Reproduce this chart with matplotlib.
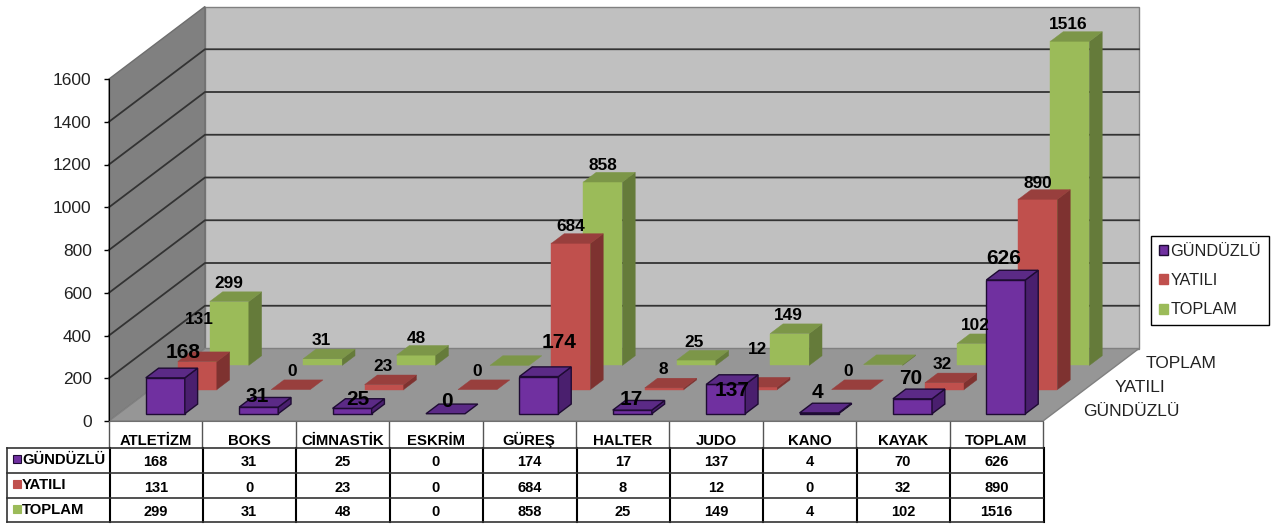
import matplotlib
matplotlib.use('Agg')
import matplotlib.pyplot as plt
from matplotlib.patches import Patch, Polygon, Rectangle

plt.rcParams['font.family'] = ['Liberation Sans', 'DejaVu Sans']

categories = ['ATLETİZM', 'BOKS', 'CİMNASTİK', 'ESKRİM', 'GÜREŞ', 'HALTER', 'JUDO', 'KANO', 'KAYAK', 'TOPLAM']
series_names = ['GÜNDÜZLÜ', 'YATILI', 'TOPLAM']
gunduzlu = [168, 31, 25, 0, 174, 17, 137, 4, 70, 626]
yatili = [131, 0, 23, 0, 684, 8, 12, 0, 32, 890]
toplam = [299, 31, 48, 0, 858, 25, 149, 4, 102, 1516]
y_ticks = [0, 200, 400, 600, 800, 1000, 1200, 1400, 1600]

W, H = 1279, 524
# plot box in pixels
LEFT, RIGHT, BASE, TOP = 109, 1043, 421, 79
DEPTH_X_PX, DEPTH_Y_PX = 96, 72.5

# colours: front, top, side
colors = [('#7030A0', '#5B2A86', '#4A1F6E'),
          ('#C0504D', '#983F3D', '#7E3230'),
          ('#9BBB59', '#7C9648', '#657B3A')]
label_sizes = [15, 12.4, 12.4]

# label nudges in pixels from the bar's top front centre
nudge_purple = [(18, -25), (-2, -11), (6, -9), (1, -12), (20, -34), (-1, -11), (6, 6), (-2, -20), (-2, -20), (-2, -21)]
nudge_red = [(2, -42), (1, -18), (-1, -18), (0, -18), (0, -17), (-1, -18), (0, -38), (-3, -18), (-2, -18), (0, -16)]
nudge_green = [(0, -18), (-1, -18), (0, -17), None, (0, -17), (-2, -18), (-1, -18), None, (-1, -18), (-2, -17)]

fig = plt.figure(figsize=(W / 100, H / 100), dpi=100)
ax = fig.add_axes([LEFT / W, 1 - BASE / H, (RIGHT - LEFT) / W, (BASE - TOP) / H])
ax.set_xlim(0, 10)
ax.set_ylim(0, 1600)
ax.patch.set_visible(False)

dx = DEPTH_X_PX * 10 / (RIGHT - LEFT)
dy = DEPTH_Y_PX * 1600 / (BASE - TOP)


def pt(x, v, d):
    return (x + d * dx, v + d * dy)


def face(points, color, edge=None, z=1, lw=1.0):
    ax.add_patch(Polygon(points, closed=True, facecolor=color, edgecolor=edge if edge else color,
                         linewidth=lw if edge else 0.3, zorder=z, clip_on=False))


# walls and floor
face([pt(0, 0, 1), pt(10, 0, 1), pt(10, 1600, 1), pt(0, 1600, 1)], '#C0C0C0', '#808080', 1)
face([pt(0, 0, 0), pt(0, 0, 1), pt(0, 1600, 1), pt(0, 1600, 0)], '#808080', '#6E6E6E', 1)
face([pt(0, 0, 0), pt(10, 0, 0), pt(10, 0, 1), pt(0, 0, 1)], '#969696', '#808080', 2)

for v in y_ticks[1:-1]:
    xs, ys = zip(pt(0, v, 0), pt(0, v, 1), pt(10, v, 1))
    ax.plot(xs, ys, color='#333333', lw=1.3, zorder=2, clip_on=False)

# bars, back series first
values = [gunduzlu, yatili, toplam]
nudges = [nudge_purple, nudge_red, nudge_green]
z = 3
for s in [2, 1, 0]:
    d0, d1 = (s + 0.3) / 3, (s + 0.7) / 3
    front, top, side = colors[s]
    edge = '#1E0B33' if s == 0 else None
    for i, v in enumerate(values[s]):
        x0, x1 = i + 0.5 - 0.209, i + 0.5 + 0.209
        if v > 0:
            face([pt(x0, 0, d0), pt(x1, 0, d0), pt(x1, v, d0), pt(x0, v, d0)], front, edge, z)
            face([pt(x1, 0, d0), pt(x1, 0, d1), pt(x1, v, d1), pt(x1, v, d0)], side, edge, z)
        face([pt(x0, v, d0), pt(x1, v, d0), pt(x1, v, d1), pt(x0, v, d1)], top, edge, z)
        z += 1
        n = nudges[s][i]
        if n is not None:
            ax.annotate(str(v), xy=pt(i + 0.5, v, d0), xytext=(n[0] * 0.72, -n[1] * 0.72),
                        textcoords='offset points', ha='center', va='center', annotation_clip=False,
                        fontsize=label_sizes[s], fontweight='bold', color='black', zorder=100)

# axis
ax.set_yticks(y_ticks)
ax.set_xticks([])
ax.tick_params(axis='y', length=3.5, width=1, labelsize=12.5, pad=9, colors='black', labelcolor='#222222')
for name in ['top', 'right']:
    ax.spines[name].set_visible(False)
ax.spines['left'].set_zorder(50)
ax.spines['bottom'].set_color('#707070')
ax.spines['bottom'].set_zorder(50)

ax.legend(handles=[Patch(facecolor=colors[k][0], edgecolor='#1E0B33' if k == 0 else colors[k][0], label=series_names[k])
                   for k in range(3)],
          loc='upper left', bbox_to_anchor=(1151 / W, 1 - 236 / H), bbox_transform=fig.transFigure,
          borderaxespad=0, fancybox=False, framealpha=1, edgecolor='black', fontsize=11.7,
          handlelength=0.55, handleheight=0.55, handletextpad=0.15, labelspacing=0.88, borderpad=0.48,
          labelcolor='#222222')

# overlay in pixels for depth labels and data table
px = fig.add_axes([0, 0, 1, 1])
px.set_xlim(0, W)
px.set_ylim(H, 0)
px.axis('off')
px.patch.set_visible(False)

depth_label_pos = [(1083, 416), (1115, 392), (1146, 368)]
for name, (lx, ly) in zip(series_names, depth_label_pos):
    px.text(lx, ly, name, fontsize=12.5, color='#222222', ha='left', va='baseline')

col_w = (RIGHT - LEFT) / len(categories)
header_top, header_bottom = 422, 448
row_lines = [448, 473, 498, 522]
row_text_y = [466.5, 491.5, 516]
row_name_y = [464, 489, 514]

for i, name in enumerate(categories):
    px.text(LEFT + col_w * (i + 0.5), 445, name, fontsize=10.7, fontweight='bold', ha='center', va='baseline')
    for r in range(3):
        px.text(LEFT + col_w * (i + 0.5), row_text_y[r], str(values[r][i]), fontsize=10.5, fontweight='bold',
                ha='center', va='baseline')

for i in range(len(categories) + 1):
    x = LEFT + col_w * i
    px.plot([x, x], [header_top, header_bottom], color='#555555', lw=1)
    px.plot([x + 0.6, x + 0.6], [header_bottom, row_lines[-1]], color='black', lw=1.5)
for y in row_lines:
    px.plot([7, RIGHT], [y, y], color='#333333', lw=1.2)
px.plot([7, 7], [row_lines[0], row_lines[-1]], color='#333333', lw=1.2)

for r, name in enumerate(series_names):
    px.add_patch(Rectangle((13, row_name_y[r] - 9), 7.5, 7.5, facecolor=colors[r][0],
                           edgecolor='#1E0B33' if r == 0 else colors[r][0], lw=0.8))
    px.text(22, row_name_y[r], name, fontsize=10.7, fontweight='bold', ha='left', va='baseline')

fig.savefig('out.png', dpi=100)
